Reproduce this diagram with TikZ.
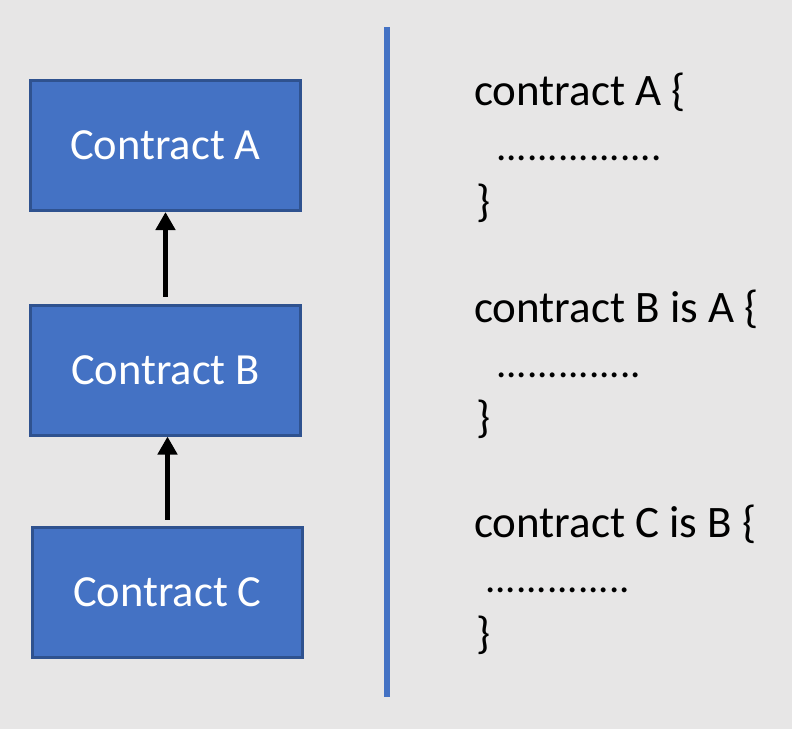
\documentclass[tikz,border=0pt]{standalone}
\usepackage{fontspec}
\setmainfont{Carlito}
\usepackage{xcolor}
\usetikzlibrary{arrows.meta, positioning}

\definecolor{bgGray}{HTML}{E7E6E6}
\definecolor{boxBlue}{HTML}{4472C4}
\definecolor{boxEdge}{HTML}{2F528F}

\begin{document}
\begin{tikzpicture}[x=1pt, y=-1pt]
\tikzstyle{contract} = [rectangle, draw=boxEdge, line width=3pt, fill=boxBlue, text=white, minimum width=270pt, minimum height=130pt, font=\fontsize{44.5}{53}\selectfont]
\tikzstyle{code} = [anchor=base west, inner sep=0pt, font=\fontsize{45}{53}\selectfont]
\tikzstyle{dots} = [code, font=\fontsize{41}{53}\selectfont]
\tikzstyle{arrow} = [line width=5pt, -{Triangle[length=18pt, width=19pt]}]

% Background
\fill[bgGray] (0,0) rectangle (792,729);
\useasboundingbox (0,0) rectangle (792,729);

% Inheritance chain
\node[contract] (contractA) at (165.5,145.5) {Contract A};
\node[contract] (contractB) at (165.5,370) {Contract B};
\node[contract] (contractC) at (167.5,592) {Contract C};

% Separator
\draw[boxBlue, line width=6pt] (387,27) -- (387,697);

% Source code
\node[code] (codeA) at (474,105) {contract A \{};
\node[dots] (dotsA) at (496,160) {................};
\node[code] (endA) at (476,216) {\}};

\node[code] (codeB) at (474,322) {contract B is A \{};
\node[dots] (dotsB) at (496,377) {..............};
\node[code] (endB) at (476,432) {\}};

\node[code] (codeC) at (474,537) {contract C is B \{};
\node[dots] (dotsC) at (485,592) {..............};
\node[code] (endC) at (476,648) {\}};

% Connections
\draw[arrow, shorten <=7pt] (contractB.north) -- (contractA.south);
\draw[arrow, shorten <=6pt] (contractC.north) -- (contractC.north |- contractB.south);
\end{tikzpicture}
\end{document}
